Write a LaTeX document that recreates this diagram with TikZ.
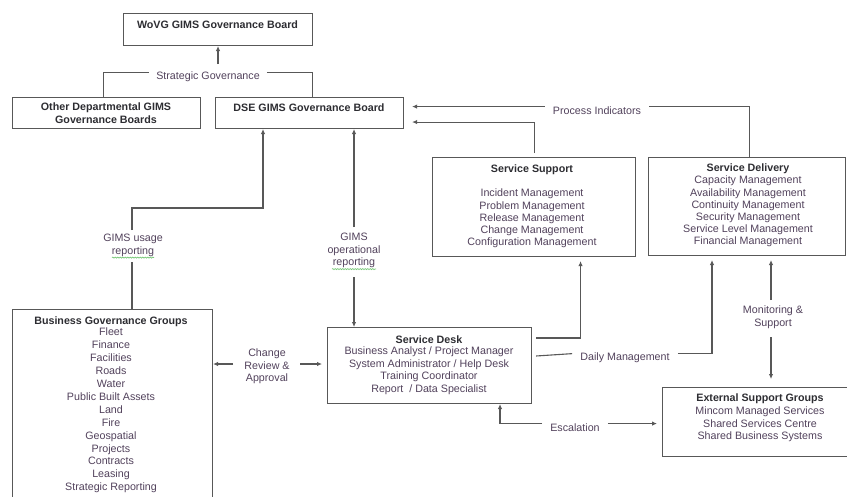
\documentclass[tikz,border=0pt]{standalone}
\usepackage{fontspec}
\setmainfont{Liberation Sans}
\usetikzlibrary{arrows.meta,calc,decorations.pathmorphing}
\definecolor{tx}{RGB}{82,66,92}
\definecolor{ti}{RGB}{45,45,50}
\definecolor{ln}{RGB}{88,88,88}
\definecolor{spell}{RGB}{120,200,120}
\tikzset{
  box/.style={draw=ln, line width=1.1pt, inner sep=0pt, anchor=north west},
  ttl/.style={font=\fontsize{10.7}{12.5}\selectfont\bfseries, text=ti, inner sep=0pt, anchor=base},
  lbl/.style={font=\fontsize{10.7}{12.5}\selectfont, text=tx, inner sep=0pt, align=center, anchor=north},
  ln/.style={draw=ln, line width=1.1pt},
  arr/.style={draw=ln, line width=1.1pt, -{Latex[length=5pt,width=4.5pt]}},
  wavy/.style={draw=spell, line width=0.7pt, decorate, decoration={snake, amplitude=0.5pt, segment length=2.5pt}}
}
\begin{document}
\begin{tikzpicture}[x=1pt, y=-1pt]
\clip (0,0) rectangle (847,496);
\fill[white] (0,0) rectangle (847,496);

% boxes
\node[box, minimum width=189pt, minimum height=32pt] (wovg) at (123,13) {};
\node[box, minimum width=188pt, minimum height=31pt] (other) at (12,97) {};
\node[box, minimum width=188pt, minimum height=31pt] (dse) at (215,97) {};
\node[box, minimum width=203pt, minimum height=99pt] (support) at (432,157) {};
\node[box, minimum width=197pt, minimum height=98pt] (delivery) at (648,157) {};
\node[box, minimum width=204pt, minimum height=76pt] (desk) at (327,327) {};
\node[box, minimum width=200pt, minimum height=200pt] (bgg) at (12,309) {};
\node[box, minimum width=190pt, minimum height=69pt] (ext) at (662,387) {};

% box texts
\node[ttl] (wovgT) at (217.5,28) {WoVG GIMS Governance Board};
\node[ttl, align=center, anchor=north] (otherT) at (106,103) {Other Departmental GIMS\\Governance Boards};
\node[ttl] (dseT) at (309,111) {DSE GIMS Governance Board};

\node[ttl] (supportT) at (532,172) {Service Support};
\node[lbl, font=\fontsize{10.7}{12.25}\selectfont] (supportL) at (532,189) {Incident Management\\Problem Management\\Release Management\\Change Management\\Configuration Management};

\node[ttl] (deliveryT) at (748,171) {Service Delivery};
\node[lbl, font=\fontsize{10.7}{12.2}\selectfont] (deliveryL) at (748,176) {Capacity Management\\Availability Management\\Continuity Management\\Security Management\\Service Level Management\\Financial Management};

\node[ttl] (deskT) at (429,343) {Service Desk};
\node[lbl] (deskL) at (429,347) {Business Analyst / Project Manager\\System Administrator / Help Desk\\Training Coordinator\\Report \ / Data Specialist};

\node[ttl] (bggT) at (111,324) {Business Governance Groups};
\node[lbl, font=\fontsize{10.7}{12.9}\selectfont] (bggL) at (111,328) {Fleet\\Finance\\Facilities\\Roads\\Water\\Public Built Assets\\Land\\Fire\\Geospatial\\Projects\\Contracts\\Leasing\\Strategic Reporting};

\node[ttl] (extT) at (760,401) {External Support Groups};
\node[lbl] (extL) at (760,407) {Mincom Managed Services\\Shared Services Centre\\Shared Business Systems};

% connector labels
\node[lbl, anchor=base] (strat) at (208,79) {Strategic Governance};
\node[lbl, anchor=base] (proc) at (597,114) {Process Indicators};
\node[lbl] (usage) at (133,234) {GIMS usage\\reporting};
\node[lbl] (oper) at (354,233) {GIMS\\operational\\reporting};
\node[lbl] (change) at (267,349) {Change\\Review \&\\Approval};
\node[lbl, anchor=base] (daily) at (625,360) {Daily Management};
\node[lbl] (monit) at (773,306) {Monitoring \&\\Support};
\node[lbl, anchor=base] (escal) at (575,431) {Escalation};

% spell-check underlines
\draw[wavy] ($(usage.south)+(-21,1)$) -- ($(usage.south)+(21,1)$);
\draw[wavy] ($(oper.south)+(-22,1)$) -- ($(oper.south)+(22,1)$);

% strategic governance
\draw[ln] ($(other.north)+(-3,0)$) |- ($(strat.west)+(-7,-3.6)$);
\draw[ln] ($(strat.east)+(7,-3.6)$) -| ($(dse.north)+(3,0)$);
\coordinate (stratUp) at (218,64);
\draw[arr] (stratUp) -- (stratUp |- wovg.south);

% process indicators
\coordinate (procL) at ($(proc.west)+(-8,-3.6)$);
\coordinate (procR) at ($(proc.east)+(8,-3.6)$);
\draw[ln] ($(delivery.north)+(2.5,0)$) |- (procR);
\draw[arr] (procL) -- ($(dse.east |- procL)+(8,0)$);
\coordinate (suppUp) at ($(support.north)+(0.5,-4)$);
\draw[arr] (suppUp) |- ($(dse.east)+(8,9)$);

% GIMS usage reporting
\coordinate (usageB) at (132,262);
\coordinate (usageT) at (132,230);
\draw[ln] (bgg.north -| usageB) -- (usageB);
\draw[arr] (usageT) |- (263,208) -- (263,128 |- dse.south);

% GIMS operational reporting
\coordinate (operT) at (354,227);
\coordinate (operB) at (354,277);
\draw[arr] (operT) -- (operT |- dse.south);
\draw[arr] (operB) -- (operB |- desk.north);

% change review & approval
\coordinate (chL) at (233,364);
\coordinate (chR) at (300,364);
\draw[arr] (chL) -- (chL -| bgg.east);
\draw[arr] (chR) -- ($(chR -| desk.west)+(-5,0)$);

% service desk to service support
\coordinate (deskSup) at ($(desk.north east)+(4,11)$);
\draw[arr] (deskSup) -| ($(support.south)+(46.5,4)$);

% daily management
\draw[ln] ($(desk.north east)+(4,29)$) -- ($(daily.west)+(-8,-3.6)$);
\draw[arr] ($(daily.east)+(8,-3.6)$) -| ($(delivery.south west)+(64,4)$);

% monitoring & support
\coordinate (monT) at (771,300);
\coordinate (monB) at (771,337);
\draw[arr] (monT) -- ($(monT |- delivery.south)+(0,4)$);
\draw[arr] (monB) -- ($(monB |- ext.north)+(0,-8)$);

% escalation
\coordinate (escL) at ($(escal.west)+(-8,-3.6)$);
\coordinate (escR) at ($(escal.east)+(8,-3.6)$);
\draw[arr] (escL) -| ($(desk.south west)+(173,0)$);
\draw[arr] (escR) -- ($(escR -| ext.west)+(-5,0)$);
\end{tikzpicture}
\end{document}
